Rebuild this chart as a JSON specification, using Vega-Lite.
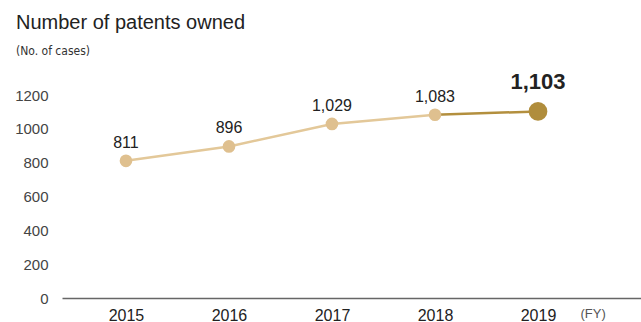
{
  "$schema": "https://vega.github.io/schema/vega-lite/v6.json",
  "autosize": "none",
  "width": 579,
  "height": 203,
  "padding": {"left": 62, "top": 95, "right": 0, "bottom": 24},
  "config": {"view": {"stroke": null}, "font": "Liberation Sans"},
  "title": {
    "text": "Number of patents owned",
    "subtitle": "(No. of cases)",
    "anchor": "start",
    "frame": "group",
    "dx": -46,
    "offset": 14,
    "fontSize": 20,
    "fontWeight": "normal",
    "color": "#222222",
    "subtitleFontSize": 12,
    "subtitleColor": "#333333",
    "subtitlePadding": 13,
    "font": "Liberation Sans",
    "subtitleFont": "DejaVu Sans Condensed"
  },
  "data": {"values": [
    {"year": 2015, "patents": 811},
    {"year": 2016, "patents": 896},
    {"year": 2017, "patents": 1029},
    {"year": 2018, "patents": 1083},
    {"year": 2019, "patents": 1103}
  ]},
  "encoding": {
    "x": {"field": "year", "type": "quantitative",
      "scale": {"domain": [2014.379, 2020], "nice": false, "zero": false},
      "axis": {"title": null, "grid": false, "ticks": false, "domain": true, "domainColor": "#666666", "domainWidth": 1.5,
        "values": [2015, 2016, 2017, 2018, 2019, 2019.53],
        "labelExpr": "datum.value > 2019.2 ? '(FY)' : format(datum.value, 'd')",
        "labelFontSize": {"condition": {"test": "datum.value > 2019.2", "value": 13}, "value": 16},
        "labelColor": {"condition": {"test": "datum.value > 2019.2", "value": "#555555"}, "value": "#222222"},
        "labelPadding": 9, "labelOverlap": false, "labelFlush": false}},
    "y": {"field": "patents", "type": "quantitative",
      "scale": {"domain": [0, 1200], "nice": false},
      "axis": {"title": null, "grid": false, "ticks": false, "domain": false, "format": "d",
        "values": [0, 200, 400, 600, 800, 1000, 1200],
        "labelFontSize": 15, "labelColor": "#444444", "labelPadding": 14, "labelAlign": "right"}}
  },
  "layer": [
    {"transform": [{"filter": "datum.year <= 2018"}],
     "mark": {"type": "line", "color": "#e3c899", "strokeWidth": 2.5}},
    {"transform": [{"filter": "datum.year >= 2018"}],
     "mark": {"type": "line", "color": "#b38f3e", "strokeWidth": 2.5}},
    {"transform": [{"filter": "datum.year <= 2018"}],
     "mark": {"type": "circle", "color": "#dfc08f", "opacity": 1, "size": 160}},
    {"transform": [{"filter": "datum.year == 2019"}],
     "mark": {"type": "circle", "color": "#b08d3c", "opacity": 1, "size": 350}},
    {"transform": [{"filter": "datum.year <= 2018"}],
     "mark": {"type": "text", "dy": -18, "fontSize": 16, "color": "#222222"},
     "encoding": {"text": {"field": "patents", "type": "quantitative", "format": ",d"}}},
    {"transform": [{"filter": "datum.year == 2019"}],
     "mark": {"type": "text", "dy": -29, "fontSize": 22, "fontWeight": "bold", "color": "#222222"},
     "encoding": {"text": {"field": "patents", "type": "quantitative", "format": ",d"}}}
  ]
}
